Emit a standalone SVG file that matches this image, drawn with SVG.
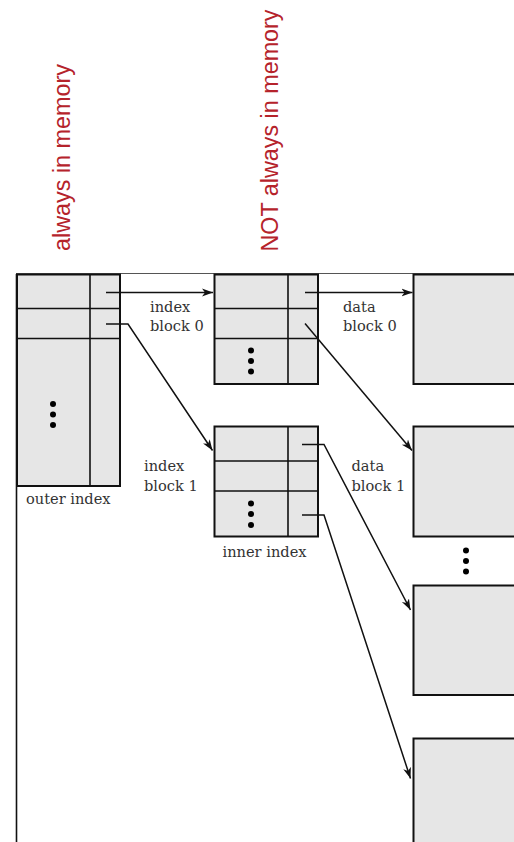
<svg xmlns="http://www.w3.org/2000/svg" width="514" height="842" viewBox="0 0 514 842">
<style>
.blk{fill:#e6e6e6;stroke:#111;stroke-width:2}
.ln{stroke:#111;stroke-width:1.6;fill:none}
.dot{fill:#000}
.lbl{font-family:"DejaVu Serif","Liberation Serif",serif;font-size:14.6px;fill:#333}
.red{font-family:"Liberation Sans",Arial,sans-serif;font-size:23.5px;fill:#b5232b}
.arr{stroke:#111;stroke-width:1.5;fill:none;marker-end:url(#ah)}
</style>
<defs>
<marker id="ah" markerUnits="userSpaceOnUse" markerWidth="12" markerHeight="10" viewBox="0 0 12 10" refX="11" refY="5" orient="auto">
<path d="M0,1 L11,5 L0,9 L3,5 z" fill="#111"/>
</marker>
</defs>
<rect width="514" height="842" fill="#fff"/>
<g id="frame">
<line x1="16" y1="273.5" x2="514" y2="273.5" stroke="#555" stroke-width="1.2"/>
<line x1="16.5" y1="274" x2="16.5" y2="842" stroke="#111" stroke-width="1.6"/>
</g>
<g id="labels-memory">
<text class="red" transform="translate(70,251) rotate(-90)" textLength="187" lengthAdjust="spacingAndGlyphs">always in memory</text>
<text class="red" transform="translate(277.5,251.5) rotate(-90)" textLength="242" lengthAdjust="spacingAndGlyphs">NOT always in memory</text>
</g>
<g id="outer-index">
<rect class="blk" x="17" y="274.5" width="103" height="211.5"/>
<line class="ln" x1="90" y1="274.5" x2="90" y2="486"/>
<line class="ln" x1="17" y1="308.5" x2="120" y2="308.5"/>
<line class="ln" x1="17" y1="338.5" x2="120" y2="338.5"/>
<circle class="dot" cx="53" cy="404" r="3"/>
<circle class="dot" cx="53" cy="414.5" r="3"/>
<circle class="dot" cx="53" cy="425" r="3"/>
<text class="lbl" x="26" y="504">outer index</text>
</g>
<g id="index-block-0">
<rect class="blk" x="214.5" y="274.5" width="103.5" height="109.5"/>
<line class="ln" x1="288" y1="274.5" x2="288" y2="384"/>
<line class="ln" x1="214.5" y1="308.5" x2="318" y2="308.5"/>
<line class="ln" x1="214.5" y1="338.5" x2="318" y2="338.5"/>
<circle class="dot" cx="251" cy="350.5" r="3"/>
<circle class="dot" cx="251" cy="361" r="3"/>
<circle class="dot" cx="251" cy="371.5" r="3"/>
<text class="lbl" x="150" y="312">index</text>
<text class="lbl" x="150" y="331">block 0</text>
</g>
<g id="index-block-1">
<rect class="blk" x="214.5" y="426.5" width="103.5" height="110"/>
<line class="ln" x1="288" y1="426.5" x2="288" y2="536.5"/>
<line class="ln" x1="214.5" y1="461" x2="318" y2="461"/>
<line class="ln" x1="214.5" y1="491" x2="318" y2="491"/>
<circle class="dot" cx="251" cy="503.5" r="3"/>
<circle class="dot" cx="251" cy="514" r="3"/>
<circle class="dot" cx="251" cy="525" r="3"/>
<text class="lbl" x="144" y="471">index</text>
<text class="lbl" x="144" y="491">block 1</text>
<text class="lbl" x="222.5" y="557">inner index</text>
</g>
<g id="data-block-0">
<rect class="blk" x="413.5" y="274.5" width="104" height="109.5"/>
<text class="lbl" x="343" y="312">data</text>
<text class="lbl" x="343" y="331">block 0</text>
</g>
<g id="data-block-1">
<rect class="blk" x="413.5" y="426.5" width="104" height="110"/>
<text class="lbl" x="351.5" y="471">data</text>
<text class="lbl" x="351.5" y="491">block 1</text>
</g>
<g id="data-dots">
<circle class="dot" cx="466" cy="550.5" r="3"/>
<circle class="dot" cx="466" cy="561" r="3"/>
<circle class="dot" cx="466" cy="571.5" r="3"/>
</g>
<g id="data-block-2">
<rect class="blk" x="413.5" y="585.5" width="104" height="109.5"/>
</g>
<g id="data-block-3">
<rect class="blk" x="413.5" y="738.5" width="104" height="110"/>
</g>
<g id="connectors">
<path class="arr" d="M106 292.5 H213"/>
<path class="arr" d="M106 324 H128 L212.5 450.5"/>
<path class="arr" d="M305 292.5 H412.5"/>
<path class="arr" d="M305 323.5 L412 450.5"/>
<path class="arr" d="M302 444.5 H324 L410.5 610"/>
<path class="arr" d="M302 515 H324 L410.5 778.5"/>
</g>
</svg>
